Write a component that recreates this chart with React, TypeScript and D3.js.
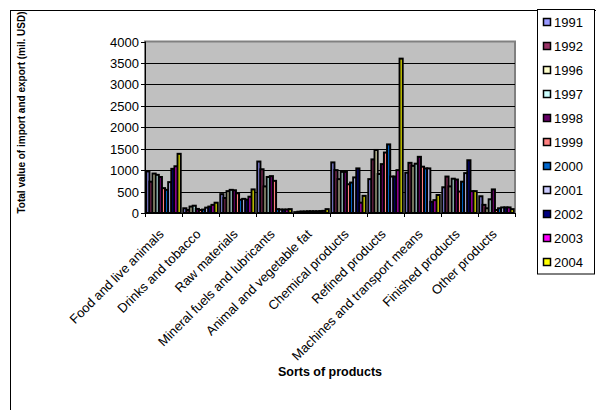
import React from "react";
import * as d3 from "d3";

// Product groups along the x axis
const categories = [
  "Food and live animals",
  "Drinks and tobacco",
  "Raw materials",
  "Mineral fuels and lubricants",
  "Animal and vegetable fat",
  "Chemical products",
  "Refined products",
  "Machines and transport means",
  "Finished products",
  "Other products",
];

// Years (series) and their colours
const years = ["1991", "1992", "1996", "1997", "1998", "1999", "2000", "2001", "2002", "2003", "2004"];
const yearColors = [
  "#9999FF", "#993366", "#FFFFCC", "#CCFFFF", "#660066", "#FF8080",
  "#0066CC", "#CCCCFF", "#000080", "#FF00FF", "#FFFF00",
];

// Values per product group, one per year (mil. USD)
const foodLive = [970, 730, 920, 890, 840, 580, 540, 720, 1030, 1090, 1380];
const drinksTobacco = [110, 70, 150, 170, 95, 70, 80, 125, 150, 190, 240];
const rawMaterials = [440, 350, 510, 540, 530, 460, 310, 330, 310, 380, 550];
const mineralFuels = [1200, 1020, 620, 840, 860, 750, 90, 80, 80, 80, 90];
const animalFat = [20, 30, 35, 35, 40, 40, 40, 40, 45, 50, 90];
const chemical = [1180, 1000, 790, 960, 960, 670, 710, 830, 1040, 240, 400];
const refined = [790, 1250, 1470, 910, 1140, 1410, 1600, 850, 850, 1000, 3600];
const machines = [940, 1170, 1100, 1150, 1310, 1080, 1040, 1040, 260, 300, 420];
const finished = [600, 850, 620, 800, 780, 500, 730, 930, 1230, 510, 510];
const other = [390, 190, 110, 320, 550, 70, 110, 130, 130, 130, 90];

const groupValues = [
  foodLive, drinksTobacco, rawMaterials, mineralFuels, animalFat,
  chemical, refined, machines, finished, other,
];

const yTicks = [0, 500, 1000, 1500, 2000, 2500, 3000, 3500, 4000];

const W = 596;
const H = 410;
const plot = { left: 145, right: 515, top: 41.5, bottom: 213 };
const FONT = "'Liberation Sans', Arial, sans-serif";

export default function App() {
  const x0 = d3
    .scaleBand<string>()
    .domain(categories)
    .range([plot.left, plot.right])
    .paddingInner(0.07)
    .paddingOuter(0.035);
  const x1 = d3.scaleBand<string>().domain(years).range([0, x0.bandwidth()]);
  const y = d3.scaleLinear().domain([0, 4000]).range([plot.bottom, plot.top]);
  const step = (plot.right - plot.left) / categories.length;

  return (
    <svg
      width={W}
      height={H}
      style={{ position: "absolute", left: 0, top: 0, background: "#fff" }}
      fontFamily={FONT}
    >
      {/* chart frame */}
      <rect x={10.5} y={10.5} width={700} height={500} fill="#fff" stroke="#000" strokeWidth={1} />

      {/* plot area */}
      <rect
        x={plot.left}
        y={plot.top}
        width={plot.right - plot.left}
        height={plot.bottom - plot.top}
        fill="#C0C0C0"
        stroke="#808080"
        strokeWidth={2}
      />
      {yTicks.slice(1, -1).map((t) => (
        <line
          key={t}
          x1={plot.left}
          x2={plot.right}
          y1={Math.round(y(t)) + 0.5}
          y2={Math.round(y(t)) + 0.5}
          stroke="#000"
          strokeWidth={1}
        />
      ))}

      {/* bars */}
      {groupValues.map((vals, ci) => (
        <g key={categories[ci]} transform={`translate(${x0(categories[ci])},0)`}>
          {vals.map((v, si) => (
            <rect
              key={years[si]}
              x={x1(years[si])}
              y={y(v)}
              width={x1.bandwidth()}
              height={plot.bottom - y(v)}
              fill={yearColors[si]}
              stroke="#000"
              strokeWidth={2}
            />
          ))}
        </g>
      ))}

      {/* y axis */}
      <line x1={plot.left + 0.5} x2={plot.left + 0.5} y1={plot.top} y2={plot.bottom} stroke="#000" />
      {yTicks.map((t) => (
        <g key={t} transform={`translate(0,${Math.round(y(t)) + 0.5})`}>
          <line x1={plot.left - 4} x2={plot.left} stroke="#000" />
          <text x={plot.left - 6} dy="0.35em" textAnchor="end" fontSize={13}>
            {t}
          </text>
        </g>
      ))}

      {/* x axis */}
      <line x1={plot.left} x2={plot.right} y1={plot.bottom + 0.5} y2={plot.bottom + 0.5} stroke="#000" />
      {d3.range(categories.length + 1).map((i) => (
        <line
          key={i}
          x1={Math.round(plot.left + i * step) + 0.5}
          x2={Math.round(plot.left + i * step) + 0.5}
          y1={plot.bottom}
          y2={plot.bottom + 4}
          stroke="#000"
        />
      ))}
      {categories.map((c, i) => {
        const cx = plot.left + (i + 0.5) * step;
        return (
          <text
            key={c}
            transform={`translate(${cx + 1},${plot.bottom + 22}) rotate(-45)`}
            textAnchor="end"
            fontSize={13}
          >
            {c}
          </text>
        );
      })}

      {/* axis titles */}
      <text
        transform={`translate(25,${(12 + 213) / 2}) rotate(-90)`}
        textAnchor="middle"
        fontSize={10}
        fontWeight="bold"
      >
        Total value of import and export (mil. USD)
      </text>
      <text x={330} y={376} textAnchor="middle" fontSize={12.5} fontWeight="bold">
        Sorts of products
      </text>

      {/* legend */}
      <rect x={537.5} y={9.5} width={57} height={264.5} fill="#fff" stroke="#000" />
      {years.map((yr, i) => {
        const cy = 22 + i * 24;
        return (
          <g key={yr}>
            <rect x={543.5} y={cy - 3.5} width={7} height={7} fill={yearColors[i]} stroke="#000" strokeWidth={1.5} />
            <text x={554} y={cy} dy="0.36em" fontSize={13}>
              {yr}
            </text>
          </g>
        );
      })}
    </svg>
  );
}
